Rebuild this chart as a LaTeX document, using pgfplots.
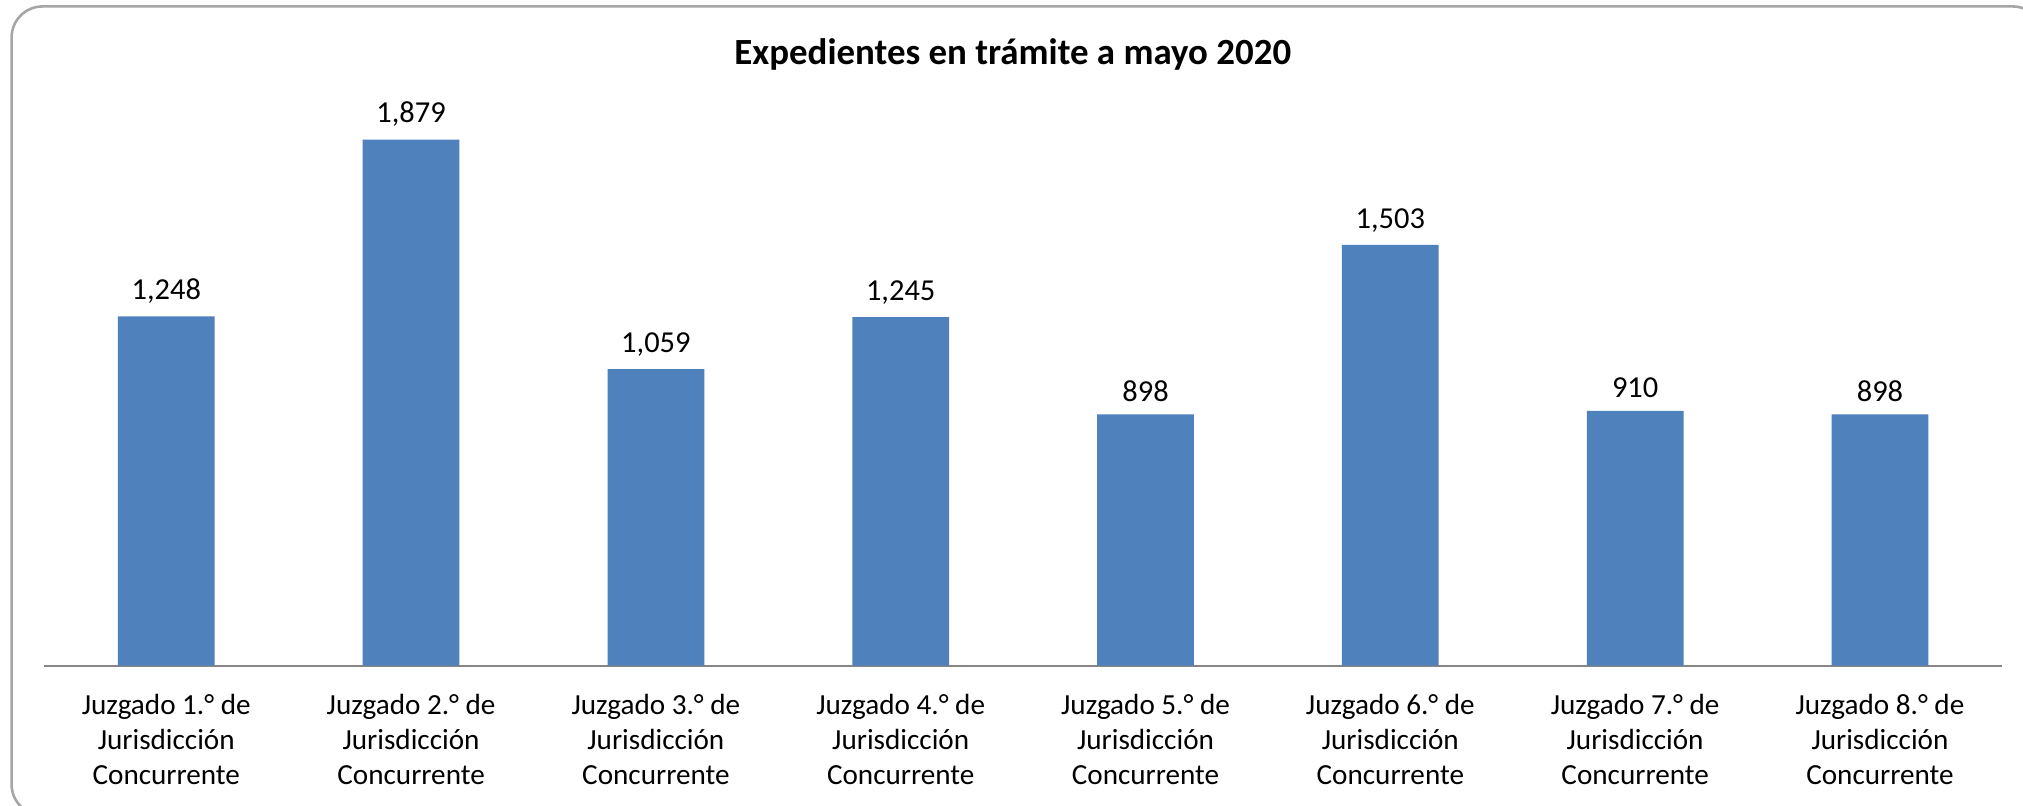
\documentclass[border=0pt]{standalone}
\usepackage{pgfplots}
\pgfplotsset{compat=1.18}
\usepackage{fontspec}
\setmainfont{Carlito}
\definecolor{barblue}{HTML}{4F81BD}
\definecolor{framegray}{HTML}{A6A6A6}
\definecolor{axisgray}{HTML}{868686}
\begin{document}
\begin{tikzpicture}
\clip (0,0) rectangle (784pt,312pt);
\fill[white] (0,0) rectangle (784pt,312pt);
\draw[framegray, line width=1pt, rounded corners=12pt] (4.5pt,-4pt) rectangle (792pt,309.5pt);
\node[font=\bfseries\fontsize{14.3}{17}\selectfont, anchor=center] at (392.5pt,291pt) {Expedientes en trámite a mayo 2020};
\begin{axis}[
  at={(17pt,54pt)}, anchor=south west,
  scale only axis,
  width=759pt, height=217pt,
  xmin=-0.5, xmax=7.5,
  ymin=0, ymax=2000,
  axis x line*=bottom,
  axis y line=none,
  x axis line style={axisgray, line width=0.9pt, -},
  ytick=\empty,
  xtick=data,
  major tick length=0pt,
  xticklabels={{Juzgado 1.° de\\Jurisdicción\\Concurrente},
               {Juzgado 2.° de\\Jurisdicción\\Concurrente},
               {Juzgado 3.° de\\Jurisdicción\\Concurrente},
               {Juzgado 4.° de\\Jurisdicción\\Concurrente},
               {Juzgado 5.° de\\Jurisdicción\\Concurrente},
               {Juzgado 6.° de\\Jurisdicción\\Concurrente},
               {Juzgado 7.° de\\Jurisdicción\\Concurrente},
               {Juzgado 8.° de\\Jurisdicción\\Concurrente}},
  xticklabel style={align=center, font=\fontsize{11.3}{13.5}\selectfont, yshift=-7.5pt},
  ybar, bar width=37.5pt,
  nodes near coords,
  nodes near coords style={font=\fontsize{11.8}{13}\selectfont, yshift=1.5pt},
  /pgf/number format/.cd, 1000 sep={,}, assume math mode=true,
]
\addplot[fill=barblue, draw=none] coordinates {
(0,1248) (1,1879) (2,1059) (3,1245) (4,898) (5,1503) (6,910) (7,898)};
\end{axis}
\end{tikzpicture}
\end{document}
